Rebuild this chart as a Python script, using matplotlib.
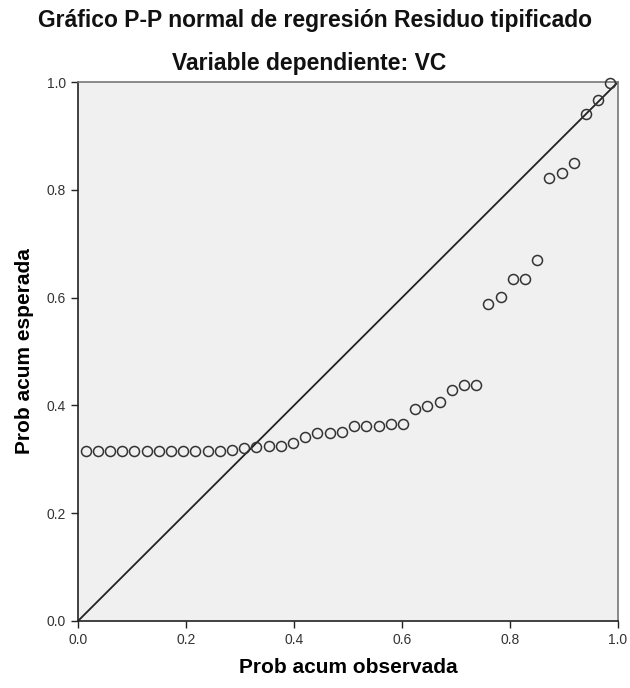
import matplotlib.pyplot as plt

plt.rcParams['font.family'] = ['Liberation Sans', 'DejaVu Sans']

# observed cumulative probability (x) and expected cumulative probability (y)
obs_prob = [0.0141, 0.0367, 0.0593, 0.0819, 0.1045, 0.1271, 0.1497, 0.1723,
            0.1949, 0.2175, 0.2401, 0.2627, 0.2853, 0.3079, 0.3305, 0.3531,
            0.3757, 0.3983, 0.4209, 0.4435, 0.4661, 0.4887, 0.5113, 0.5339,
            0.5565, 0.5791, 0.6017, 0.6243, 0.6469, 0.6695, 0.6921, 0.7147,
            0.7373, 0.7599, 0.7825, 0.8051, 0.8277, 0.8503, 0.8729, 0.8955,
            0.9181, 0.9407, 0.9633, 0.9859]
exp_prob = [0.316, 0.316, 0.316, 0.316, 0.316, 0.316, 0.316, 0.316,
            0.316, 0.316, 0.316, 0.316, 0.317, 0.321, 0.323, 0.325,
            0.325, 0.330, 0.341, 0.349, 0.349, 0.350, 0.361, 0.362,
            0.362, 0.365, 0.366, 0.394, 0.398, 0.406, 0.428, 0.437,
            0.438, 0.589, 0.602, 0.634, 0.634, 0.670, 0.822, 0.832,
            0.849, 0.941, 0.967, 0.998]
ticks = [0.0, 0.2, 0.4, 0.6, 0.8, 1.0]

fig = plt.figure(figsize=(6.3, 6.88), dpi=100)
ax = fig.add_axes([0.1238, 0.0974, 0.8572, 0.7834])
ax.set_facecolor('#f0f0f0')

# reference diagonal
ax.plot([0, 1], [0, 1], color='#222222', linewidth=1.3, zorder=2)
ax.plot(obs_prob, exp_prob, linestyle='none', marker='o', markersize=7.2,
        markerfacecolor='none', markeredgecolor='#333333',
        markeredgewidth=1.1, zorder=3, clip_on=False)

ax.set_xlim(0, 1)
ax.set_ylim(0, 1)
ax.set_xticks(ticks)
ax.set_yticks(ticks)
ax.set_xticklabels(['%.1f' % t for t in ticks])
ax.set_yticklabels(['%.1f' % t for t in ticks])
ax.tick_params(direction='out', length=5, width=1, colors='#222222',
               labelsize=10, labelcolor='#333333')

for side in ['left', 'bottom']:
    ax.spines[side].set_color('#222222')
    ax.spines[side].set_linewidth(1.2)
for side in ['top', 'right']:
    ax.spines[side].set_color('#777777')
    ax.spines[side].set_linewidth(1.2)

ax.set_xlabel('Prob acum observada', fontsize=15, fontweight='bold', labelpad=8)
ax.set_ylabel('Prob acum esperada', fontsize=15, fontweight='bold', labelpad=9)

fig.text(0.500, 0.970, 'Gráfico P-P normal de regresión Residuo tipificado',
         ha='center', va='center', fontsize=16.5, fontweight='bold', color='#111111')
fig.text(0.490, 0.908, 'Variable dependiente: VC',
         ha='center', va='center', fontsize=16.5, fontweight='bold', color='#111111')

plt.savefig('out.png', dpi=100)
